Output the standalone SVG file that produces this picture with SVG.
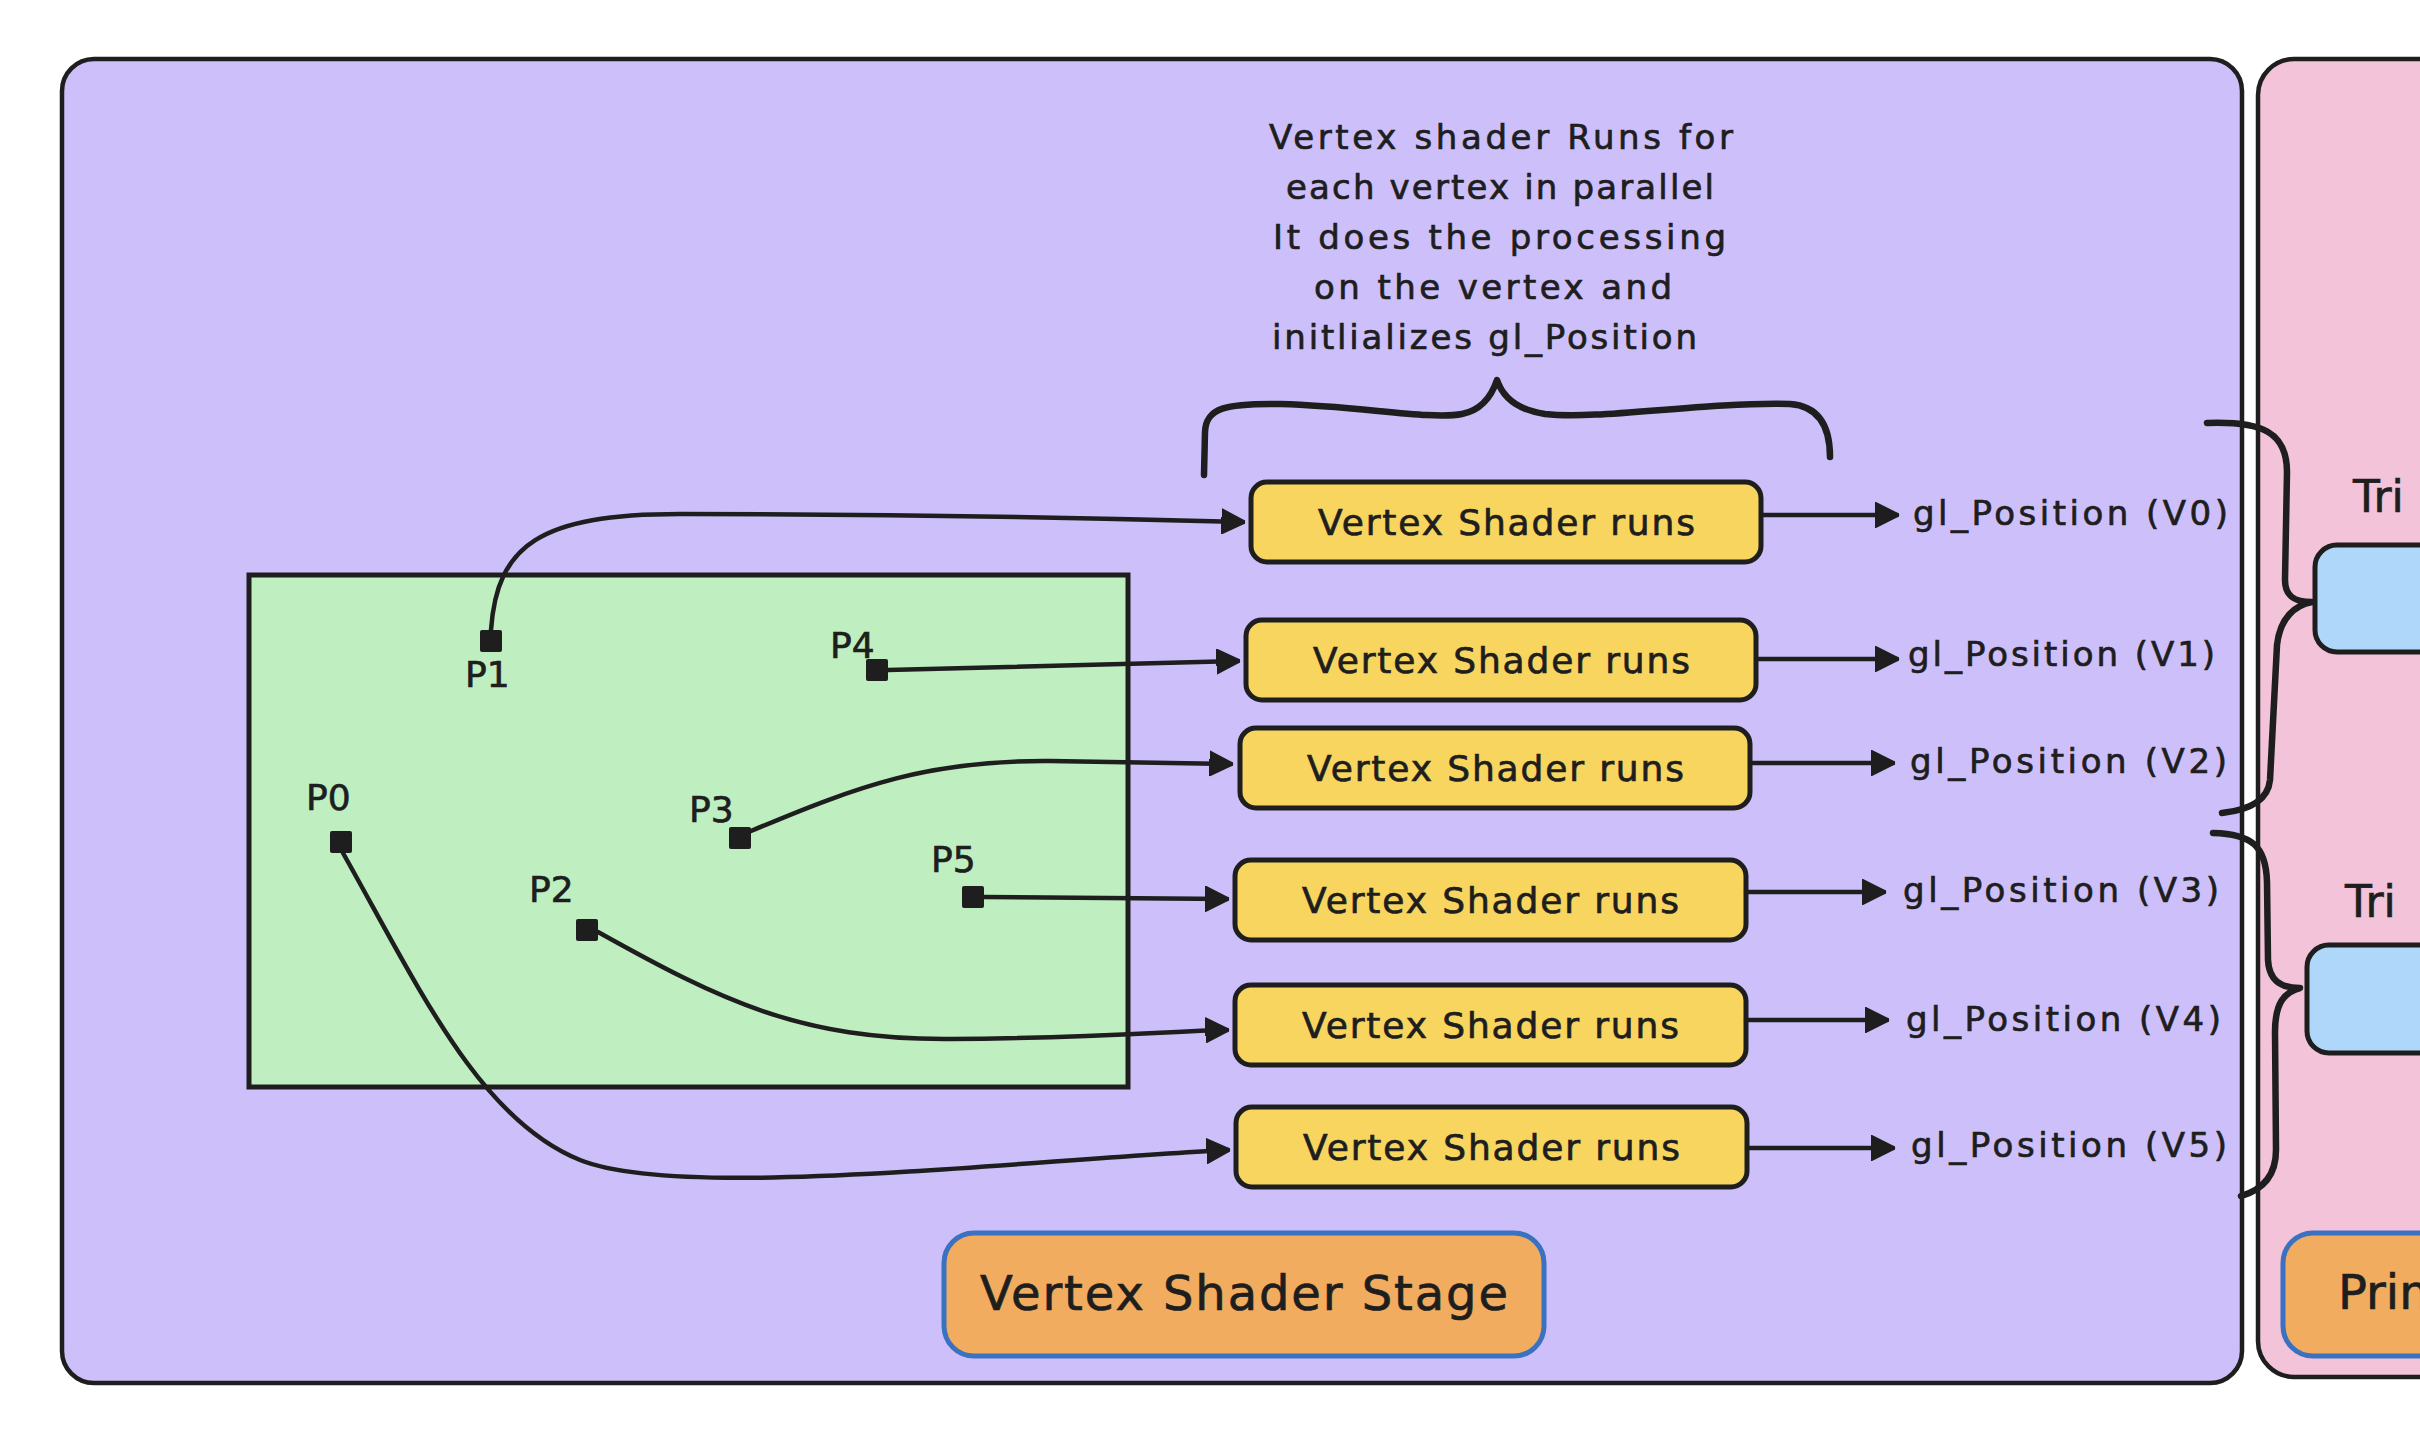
<svg xmlns="http://www.w3.org/2000/svg" width="2420" height="1450" viewBox="0 0 2420 1450">
<defs>
<style>
.panel{stroke:#1e1e1e;stroke-width:4.5}
.vs{fill:#f7d55f;stroke:#1e1e1e;stroke-width:5}
.pt{fill:#1e1e1e}
.t{font-family:"DejaVu Sans","Liberation Sans",sans-serif;fill:#1e1e1e;stroke:#1e1e1e;stroke-width:0.7}
.conn{fill:none;stroke:#1e1e1e;stroke-width:4.5;stroke-linecap:round}
.brace{fill:none;stroke:#1e1e1e;stroke-width:6.5;stroke-linecap:round;stroke-linejoin:round}
.stage{fill:#f1ac5f;stroke:#3a71c1;stroke-width:5}
.blue{fill:#afd7fa;stroke:#1e1e1e;stroke-width:5}
</style>
<marker id="ah" viewBox="0 0 10 10" refX="9" refY="5" markerWidth="24" markerHeight="26" markerUnits="userSpaceOnUse" orient="auto">
<path d="M0,0 L10,5 L0,10 z" fill="#1e1e1e" stroke="#1e1e1e" stroke-width="1" stroke-linejoin="round"/>
</marker>
</defs>
<rect width="2420" height="1450" fill="#ffffff"/>

<g id="vertex-stage-panel">
<rect class="panel" x="62" y="59" width="2180" height="1324" rx="32" fill="#cdc0fa"/>
</g>
<g id="primitive-panel">
<rect class="panel" x="2258" y="59" width="400" height="1318" rx="36" fill="#f2c3d9"/>
</g>

<g id="annotation">
<text class="t" font-size="34" x="1269" y="149" textLength="464" lengthAdjust="spacing">Vertex shader Runs for</text>
<text class="t" font-size="34" x="1286" y="199" textLength="428" lengthAdjust="spacing">each vertex in parallel</text>
<text class="t" font-size="34" x="1273" y="249" textLength="453" lengthAdjust="spacing">It does the processing</text>
<text class="t" font-size="34" x="1314" y="299" textLength="358" lengthAdjust="spacing">on the vertex and</text>
<text class="t" font-size="34" x="1272" y="349" textLength="425" lengthAdjust="spacing">initlializes gl_Position</text>
<path class="brace" d="M1204,475 L1205,432 C1206,408 1225,403 1281,404 C1360,406 1430,420 1462,414 C1482,410 1492,395 1497,380 C1503,398 1518,410 1545,414 C1600,420 1700,402 1790,404 C1818,406 1830,425 1830,457"/>
</g>

<g id="points-area">
<rect x="249" y="575" width="879" height="512" fill="#bfefc0" stroke="#1e1e1e" stroke-width="5"/>
</g>

<g id="P1"><rect class="pt" x="480" y="630" width="22" height="22" rx="2"/><text class="t" font-size="36" x="465" y="687">P1</text></g>
<g id="P4"><rect class="pt" x="866" y="659" width="22" height="22" rx="2"/><text class="t" font-size="36" x="830" y="658">P4</text></g>
<g id="P0"><rect class="pt" x="330" y="831" width="22" height="22" rx="2"/><text class="t" font-size="36" x="306" y="810">P0</text></g>
<g id="P3"><rect class="pt" x="729" y="827" width="22" height="22" rx="2"/><text class="t" font-size="36" x="689" y="822">P3</text></g>
<g id="P5"><rect class="pt" x="962" y="886" width="22" height="22" rx="2"/><text class="t" font-size="36" x="931" y="872">P5</text></g>
<g id="P2"><rect class="pt" x="576" y="919" width="22" height="22" rx="2"/><text class="t" font-size="36" x="529" y="902">P2</text></g>

<g id="vs0"><rect class="vs" x="1251" y="482" width="510" height="80" rx="16"/><text class="t" font-size="36" x="1318" y="535" textLength="377" lengthAdjust="spacing">Vertex Shader runs</text></g>
<g id="vs1"><rect class="vs" x="1246" y="620" width="510" height="80" rx="16"/><text class="t" font-size="36" x="1313" y="673" textLength="377" lengthAdjust="spacing">Vertex Shader runs</text></g>
<g id="vs2"><rect class="vs" x="1240" y="728" width="510" height="80" rx="16"/><text class="t" font-size="36" x="1307" y="781" textLength="377" lengthAdjust="spacing">Vertex Shader runs</text></g>
<g id="vs3"><rect class="vs" x="1235" y="860" width="511" height="80" rx="16"/><text class="t" font-size="36" x="1302" y="913" textLength="377" lengthAdjust="spacing">Vertex Shader runs</text></g>
<g id="vs4"><rect class="vs" x="1235" y="985" width="511" height="80" rx="16"/><text class="t" font-size="36" x="1302" y="1038" textLength="377" lengthAdjust="spacing">Vertex Shader runs</text></g>
<g id="vs5"><rect class="vs" x="1236" y="1107" width="511" height="80" rx="16"/><text class="t" font-size="36" x="1303" y="1160" textLength="377" lengthAdjust="spacing">Vertex Shader runs</text></g>

<g id="glpos">
<text class="t" font-size="34" x="1913" y="525" textLength="315" lengthAdjust="spacing">gl_Position (V0)</text>
<text class="t" font-size="34" x="1908" y="666" textLength="307" lengthAdjust="spacing">gl_Position (V1)</text>
<text class="t" font-size="34" x="1910" y="773" textLength="317" lengthAdjust="spacing">gl_Position (V2)</text>
<text class="t" font-size="34" x="1903" y="902" textLength="316" lengthAdjust="spacing">gl_Position (V3)</text>
<text class="t" font-size="34" x="1906" y="1031" textLength="315" lengthAdjust="spacing">gl_Position (V4)</text>
<text class="t" font-size="34" x="1911" y="1157" textLength="316" lengthAdjust="spacing">gl_Position (V5)</text>
</g>

<g id="stage-label">
<rect class="stage" x="944" y="1233" width="600" height="123" rx="30"/>
<text class="t" font-size="48" x="980" y="1310" textLength="528" lengthAdjust="spacing">Vertex Shader Stage</text>
</g>

<g id="triangle1">
<text class="t" font-size="44" x="2353" y="512">Tri</text>
<rect class="blue" x="2315" y="545" width="300" height="107" rx="22"/>
</g>
<g id="triangle2">
<text class="t" font-size="44" x="2345" y="917">Tri</text>
<rect class="blue" x="2307" y="945" width="300" height="108" rx="22"/>
</g>
<g id="prim-label">
<rect class="stage" x="2283" y="1233" width="300" height="123" rx="30"/>
<text class="t" font-size="48" x="2338" y="1309">Prim</text>
</g>

<g id="connectors">
<path class="conn" marker-end="url(#ah)" d="M491,630 C497,545 540,514 680,514 C900,514 1100,518 1243,522"/>
<path class="conn" marker-end="url(#ah)" d="M888,670 L1238,661"/>
<path class="conn" marker-end="url(#ah)" d="M751,831 C860,785 930,760 1050,761 C1130,762 1190,763 1231,764"/>
<path class="conn" marker-end="url(#ah)" d="M984,897 L1227,899"/>
<path class="conn" marker-end="url(#ah)" d="M598,932 C720,1000 800,1040 950,1039 C1100,1038 1170,1031 1227,1030"/>
<path class="conn" marker-end="url(#ah)" d="M343,853 C420,990 480,1120 580,1160 C680,1200 1000,1162 1228,1150"/>
<path class="conn" marker-end="url(#ah)" d="M1761,515 L1897,515"/>
<path class="conn" marker-end="url(#ah)" d="M1757,659 L1897,659"/>
<path class="conn" marker-end="url(#ah)" d="M1750,763 L1893,763"/>
<path class="conn" marker-end="url(#ah)" d="M1746,892 L1884,892"/>
<path class="conn" marker-end="url(#ah)" d="M1746,1020 L1887,1020"/>
<path class="conn" marker-end="url(#ah)" d="M1747,1148 L1893,1148"/>
<path class="brace" d="M2207,423 C2262,421 2287,432 2287,472 L2285,580 C2285,596 2294,602 2312,602 C2295,605 2280,618 2277,645 L2270,780 C2268,800 2250,810 2222,813"/>
<path class="brace" d="M2213,833 C2252,834 2266,846 2267,882 L2268,960 C2269,980 2280,988 2300,988 C2285,992 2275,1002 2275,1032 L2276,1150 C2276,1176 2262,1190 2241,1196"/>
</g>
</svg>
